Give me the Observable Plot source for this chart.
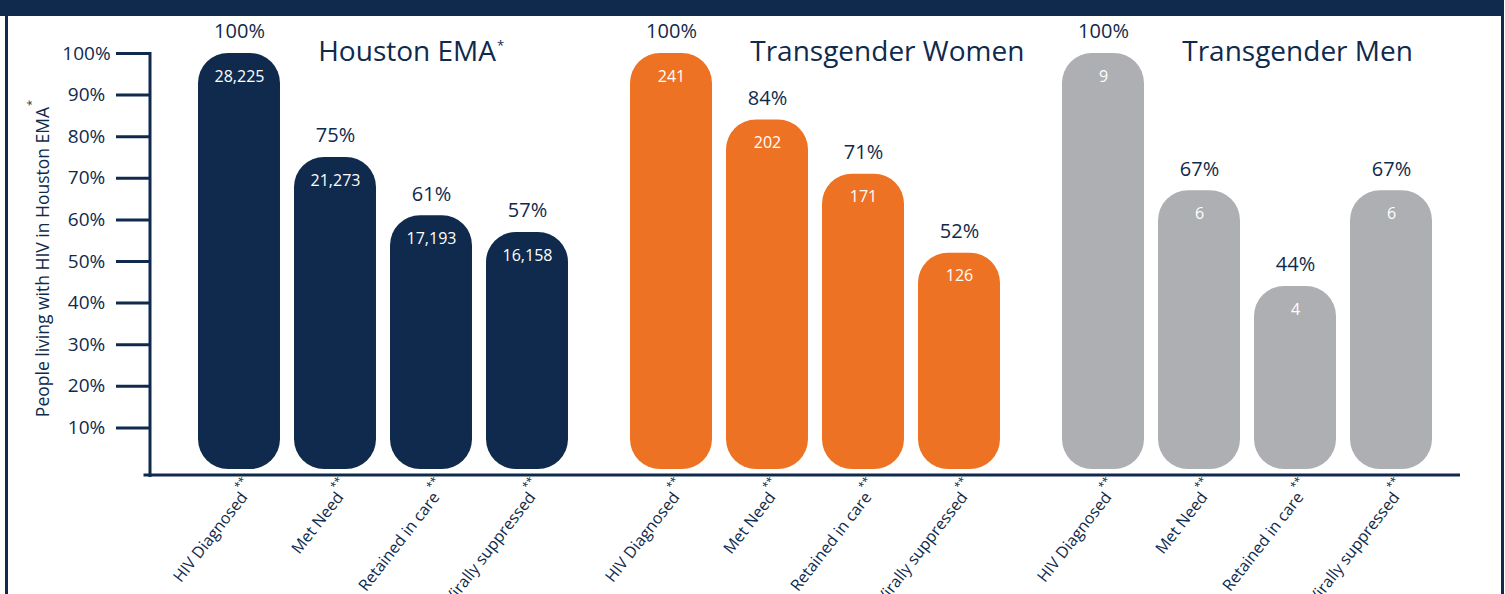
<!DOCTYPE html>
<html><head><meta charset="utf-8">
<script src="https://cdn.jsdelivr.net/npm/d3@7"></script>
<script src="https://cdn.jsdelivr.net/npm/@observablehq/plot@0.6"></script>
<style>
body{margin:0;background:#fff;}
#wrap{position:relative;width:1505px;height:594px;overflow:hidden;background:#fff;}
#chart{position:absolute;left:0;top:0;}
.band{position:absolute;background:#0f2a4c;}
</style></head><body>
<div id="wrap">
<div id="chart"></div>
<div class="band" style="left:0;top:0;width:1503px;height:16px"></div>
<div class="band" style="left:5px;top:0;width:2.5px;height:594px"></div>
<div class="band" style="left:1501px;top:0;width:2.5px;height:594px"></div>
</div>
<script>
// ---- data ----
const groups = ["Houston EMA*", "Transgender Women", "Transgender Men"];
const stages = ["HIV Diagnosed**", "Met Need**", "Retained in care**", "Virally suppressed**"];
const houstonPct = [100, 75, 61, 57];
const houstonCount = [28225, 21273, 17193, 16158];
const twPct = [100, 84, 71, 52];
const twCount = [241, 202, 171, 126];
const tmPct = [100, 67, 44, 67];
const tmCount = [9, 6, 4, 6];
const yTicks = [10, 20, 30, 40, 50, 60, 70, 80, 90, 100];
const yLabel = "People living with HIV in Houston EMA*";

// ---- styles ----
const navy = "#0f2a4c";
const fills = ["#0f2a4c", "#ee7223", "#aeafb2"];
const GAP = 4.5;      // group spacing in bar steps
const HALF = 0.427;   // half bar width in bar steps

const series = [[houstonPct, houstonCount], [twPct, twCount], [tmPct, tmCount]];
const rows = [];
series.forEach(([p, c], gi) => stages.forEach((s, si) => rows.push({
  group: groups[gi], gi, stage: s, pct: p[si], count: c[si], pos: gi * GAP + si
})));
const fmt = d3.format(",");

const plot = Plot.plot({
  width: 1505, height: 594,
  marginTop: 53, marginBottom: 125, marginLeft: 149.5, marginRight: 45,
  style: {fontFamily: "'Open Sans', sans-serif", color: navy, background: "transparent", overflow: "visible"},
  x: {type: "linear", domain: [0, 12], range: [239, 1391], axis: null},
  y: {domain: [0, 100], axis: null, label: null},
  color: {domain: groups, range: fills},
  marks: [
    Plot.rect(rows, {x1: d => d.pos - HALF, x2: d => d.pos + HALF, y1: 0, y2: "pct", fill: "group", rx: 30}),
    Plot.frame({anchor: "left", stroke: navy, strokeWidth: 3, insetBottom: -6}),
    Plot.ruleY([0], {dy: 5.5, stroke: navy, strokeWidth: 3, insetLeft: -6}),
    Plot.axisY(yTicks, {anchor: "left", label: null, tickSize: 35, tickPadding: 30, dx: 1.5,
      textAnchor: "middle", fontSize: 19, strokeWidth: 3, stroke: navy, fill: navy,
      tickFormat: d => d + "%"}),
    Plot.text(rows, {x: "pos", y: "pct", text: d => d.pct + "%", dy: -21.5, fontSize: 20, fill: navy}),
    Plot.text(rows, {x: "pos", y: "pct", text: d => fmt(d.count), dy: 23, fontSize: 16, fill: "white"}),
    Plot.text(groups, {x: (d, i) => i * GAP + 0.82, frameAnchor: "top", textAnchor: "start", lineAnchor: "middle",
      dy: -1, fontSize: 28, fill: navy}),
    Plot.text(rows, {x: "pos", frameAnchor: "bottom", text: "stage", rotate: -52, textAnchor: "end",
      lineAnchor: "bottom", dx: 16.5, dy: 18, fontSize: 16, fill: navy}),
    Plot.text([yLabel], {frameAnchor: "left", rotate: -90, textAnchor: "middle", lineAnchor: "middle",
      dx: -107, dy: -3, fontSize: 17.5, fill: navy})
  ]
});

// superscript trailing asterisks (size and raise per text kind)
const NS = "http://www.w3.org/2000/svg";
const supStyle = s => stages.includes(s) ? {size: 11, dy: -11, dx: 0.5}
  : groups.includes(s) ? {size: 13, dy: -11, dx: 1}
  : {size: 11, dy: -14, dx: 1};
plot.querySelectorAll("text").forEach(t => {
  if (t.querySelector("tspan")) return;
  const full = t.textContent;
  const m = full.match(/^(.*?)(\*+)$/);
  if (!m) return;
  const st = supStyle(full);
  t.textContent = "";
  const a = document.createElementNS(NS, "tspan");
  a.textContent = m[1];
  const b = document.createElementNS(NS, "tspan");
  b.textContent = m[2];
  b.setAttribute("dy", st.dy);
  b.setAttribute("dx", st.dx);
  b.setAttribute("font-size", st.size);
  t.append(a, b);
});

document.getElementById("chart").append(plot);
</script>
</body></html>
